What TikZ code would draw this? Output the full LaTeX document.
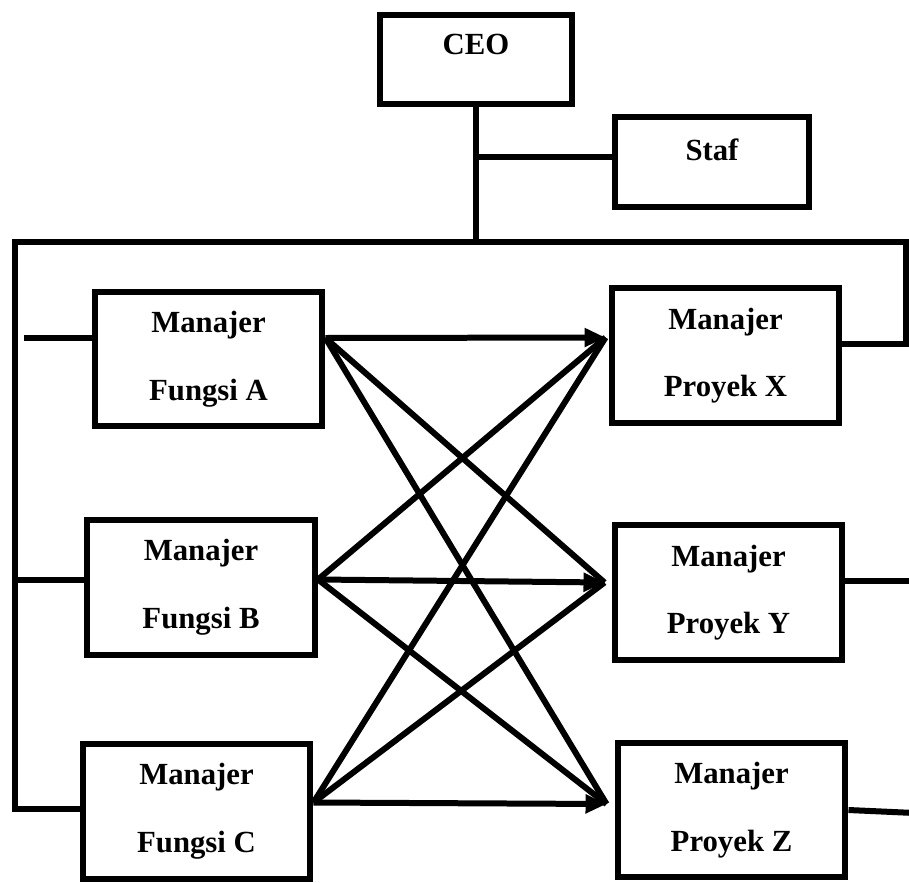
\documentclass[tikz,border=0pt]{standalone}
\usepackage{fontspec}
\setmainfont{Liberation Serif}
\usetikzlibrary{calc,arrows.meta}

\begin{document}
\begin{tikzpicture}[x=0.02cm, y=-0.02cm,
  garis/.style={line width=0.12cm},
  kotak/.style={draw, line width=0.12cm, minimum width=4.56cm, minimum height=2.7cm,
    align=center, font=\bfseries\fontsize{17.5}{38.5}\selectfont},
  panah/.style={garis, -{Triangle[length=0.42cm, width=0.36cm]}}]
  \useasboundingbox (0,0) rectangle (909,882);

  % Pimpinan dan staf
  \node[kotak, minimum width=3.84cm, minimum height=1.78cm, text depth=0.62cm] (ceo) at (476,59.5) {CEO};
  \node[kotak, minimum width=3.88cm, minimum height=1.8cm, text depth=0.48cm] (staf) at (712,162) {Staf};

  % Manajer fungsi (kiri)
  \node[kotak] (fa) at (208.5,359) {Manajer\\Fungsi A};
  \node[kotak] (fb) at (201,587.5) {Manajer\\Fungsi B};
  \node[kotak] (fc) at (196.5,811.5) {Manajer\\Fungsi C};

  % Manajer proyek (kanan)
  \node[kotak] (px) at (725.5,355.5) {Manajer\\Proyek X};
  \node[kotak] (py) at (728.5,592.5) {Manajer\\Proyek Y};
  \node[kotak] (pz) at (731.5,810) {Manajer\\Proyek Z};

  % Titik bantu
  \coordinate (kiri) at (15,242);
  \coordinate (kanan) at (906,242);
  \coordinate (st) at ($(staf.west)+(0,-5)$);
  \coordinate (fa-l) at ($(fa.west)+(0,-21)$);
  \coordinate (fb-l) at ($(fb.west)+(0,-8)$);
  \coordinate (fc-l) at ($(fc.west)+(0,-3)$);
  \coordinate (px-r) at ($(px.east)+(0,-12)$);
  \coordinate (py-r) at ($(py.east)+(0,-12)$);
  \coordinate (pz-r) at ($(pz.east)+(0,0)$);
  \coordinate (fa-o) at ($(fa.east)+(0,-21)$);
  \coordinate (fb-o) at ($(fb.east)+(0,-8)$);
  \coordinate (fc-o) at ($(fc.east)+(0,-9)$);
  \coordinate (px-i) at ($(px.west)+(-3,-18)$);
  \coordinate (py-i) at ($(py.west)+(-7,-10)$);
  \coordinate (pz-i) at ($(pz.west)+(-8,-6)$);

  % Garis komando
  \draw[garis] (ceo.south) -- (ceo.south |- kiri);
  \draw[garis] (st) -- (st -| ceo.south);
  \draw[garis] (px-r) -- (px-r -| kanan) -- (kanan) -- (kiri) -- (kiri |- fc-l) -- (fc-l);
  \draw[garis] (fa-l) -- ++(-68,0);
  \draw[garis] (fb-l) -- (fb-l -| kiri);
  \draw[garis] (py-r) -- ++(67,0);
  \draw[garis] (pz-r) -- ++(66,3);

  % Hubungan fungsi - proyek
  \draw[panah] (fa-o) -- (px-i);
  \draw[garis] (fa-o) -- (py-i);
  \draw[garis] (fa-o) -- (pz-i);
  \draw[garis] (fb-o) -- (px-i);
  \draw[panah] (fb-o) -- (py-i);
  \draw[garis] (fb-o) -- (pz-i);
  \draw[garis] (fc-o) -- (px-i);
  \draw[garis] (fc-o) -- (py-i);
  \draw[panah] (fc-o) -- (pz-i);
\end{tikzpicture}
\end{document}
